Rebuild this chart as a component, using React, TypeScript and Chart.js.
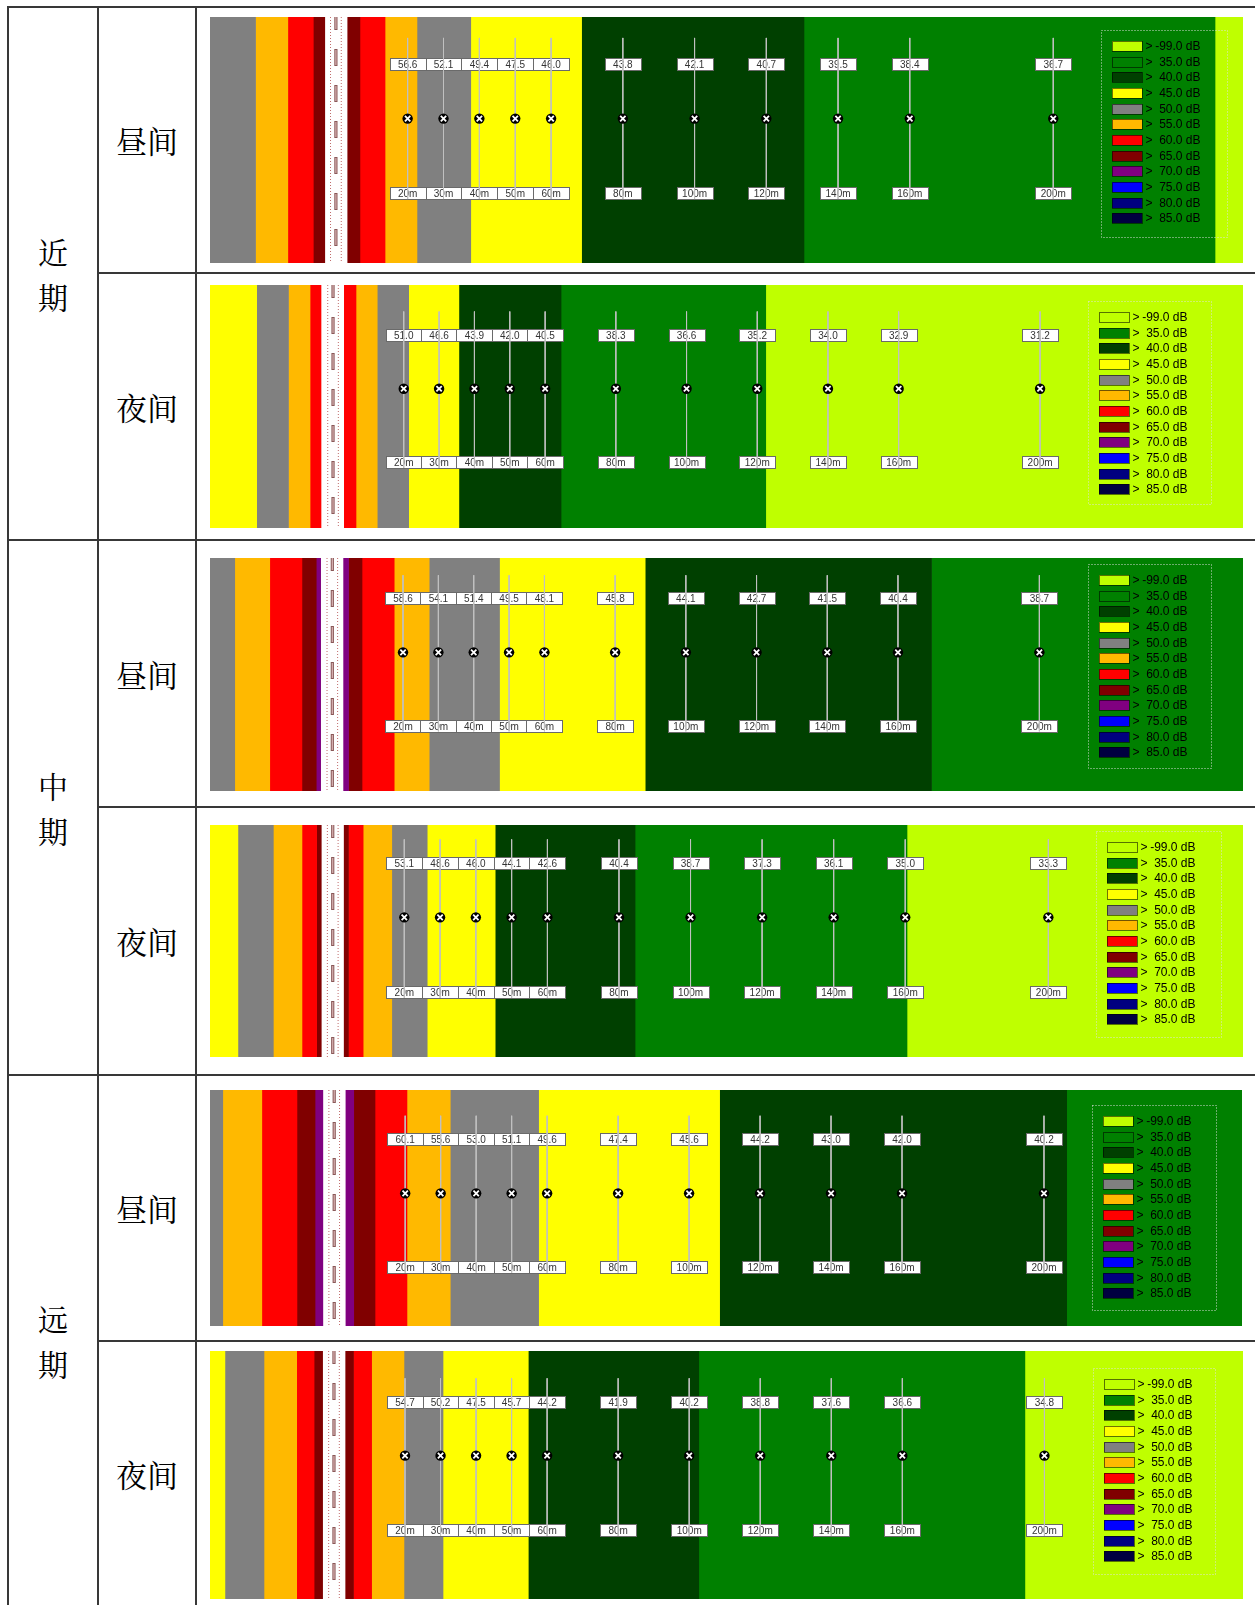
import React, { useEffect, useRef } from 'react';
import { Chart, registerables } from 'chart.js';

Chart.register(...registerables);

// ---------------- data ----------------
const legendThresholds = [-99, 35, 40, 45, 50, 55, 60, 65, 70, 75, 80, 85];
const legendColors = ['#bfff00', '#008000', '#004000', '#ffff00', '#808080', '#ffb900', '#ff0000', '#800000', '#800080', '#0000ff', '#000080', '#000040'];

const receiverDistances = [20, 30, 40, 50, 60, 80, 100, 120, 140, 160, 200];

const nearDayValues = [56.6, 52.1, 49.4, 47.5, 46.0, 43.8, 42.1, 40.7, 39.5, 38.4, 36.7];
const nearNightValues = [51.0, 46.6, 43.9, 42.0, 40.5, 38.3, 36.6, 35.2, 34.0, 32.9, 31.2];
const midDayValues = [58.6, 54.1, 51.4, 49.5, 48.1, 45.8, 44.1, 42.7, 41.5, 40.4, 38.7];
const midNightValues = [53.1, 48.6, 46.0, 44.1, 42.6, 40.4, 38.7, 37.3, 36.1, 35.0, 33.3];
const farDayValues = [60.1, 55.6, 53.0, 51.1, 49.6, 47.4, 45.6, 44.2, 43.0, 42.0, 40.2];
const farNightValues = [54.7, 50.2, 47.5, 45.7, 44.2, 41.9, 40.2, 38.8, 37.6, 36.6, 34.8];

// contour band edges (m from road centre) and band level (lower threshold, dB); null = road
const nearDayEdges = [-35.1, -22.4, -13.4, -6.3, -3.1, 3.3, 6.7, 13.7, 22.6, 37.6, 68.5, 130.5, 245.1, 252.9];
const nearDayLevels = [50, 55, 60, 65, null, 65, 60, 55, 50, 45, 40, 35, -99];
const nearNightEdges = [-34.8, -21.6, -12.6, -6.5, -3.4, 3.2, 6.5, 12.5, 21.4, 35.6, 64.5, 122.4, 257.4];
const nearNightLevels = [45, 50, 55, 60, null, 60, 55, 50, 45, 40, 35, -99];
const midDayEdges = [-34.6, -27.6, -17.7, -8.6, -4.55, -3.3, 3.2, 4.6, 8.4, 17.5, 27.4, 47.3, 88.5, 169.5, 257.6];
const midDayLevels = [50, 55, 60, 65, 70, null, 70, 65, 60, 55, 50, 45, 40, 35];
const midNightEdges = [-34.3, -26.5, -16.6, -8.6, -4.5, -3.2, 3.2, 4.4, 8.5, 16.5, 26.4, 45.4, 84.5, 160.5, 254.4];
const midNightLevels = [45, 50, 55, 60, 65, null, 65, 60, 55, 50, 45, 40, 35, -99];
const farDayEdges = [-35.0, -31.4, -20.4, -10.5, -5.4, -3.2, 3.3, 5.5, 11.5, 20.5, 32.7, 57.6, 108.6, 206.4, 255.8];
const farDayLevels = [50, 55, 60, 65, 70, null, 70, 65, 60, 55, 50, 45, 40, 35];
const farNightEdges = [-34.9, -30.7, -19.7, -10.5, -5.6, -3.2, 3.3, 5.5, 10.6, 19.7, 30.7, 54.7, 102.7, 194.5, 255.9];
const farNightLevels = [45, 50, 55, 60, 65, null, 65, 60, 55, 50, 45, 40, 35, -99];

// road markings (m from road centre)
const laneLineOffsets = [-1.5, 1.5];
const centreLineOffset = 0;

const periodLabels = ['近期', '中期', '远期'];
const timeLabels = ['昼间', '夜间'];

// ---------------- layout ----------------
type Rows = { lineTop: number; valueY: number; markerY: number; distY: number; lineBottom: number };
type Box = { left: number; top: number; width: number; height: number };
type PanelCfg = { values: number[]; edges: number[]; levels: (number | null)[]; rect: Box; rows: Rows; legendBox: Box };

const panels: PanelCfg[] = [
  { values: nearDayValues, edges: nearDayEdges, levels: nearDayLevels,
    rect: { left: 210, top: 17, width: 1033, height: 246 },
    rows: { lineTop: 0.085, valueY: 0.19, markerY: 0.413, distY: 0.715, lineBottom: 0.74 },
    legendBox: { left: 891, top: 13, width: 126, height: 207 } },
  { values: nearNightValues, edges: nearNightEdges, levels: nearNightLevels,
    rect: { left: 210, top: 285, width: 1033, height: 243 },
    rows: { lineTop: 0.109, valueY: 0.205, markerY: 0.427, distY: 0.73, lineBottom: 0.753 },
    legendBox: { left: 878, top: 16, width: 123, height: 203 } },
  { values: midDayValues, edges: midDayEdges, levels: midDayLevels,
    rect: { left: 210, top: 558, width: 1033, height: 233 },
    rows: { lineTop: 0.074, valueY: 0.171, markerY: 0.405, distY: 0.719, lineBottom: 0.744 },
    legendBox: { left: 878, top: 6, width: 123, height: 204 } },
  { values: midNightValues, edges: midNightEdges, levels: midNightLevels,
    rect: { left: 210, top: 825, width: 1033, height: 232 },
    rows: { lineTop: 0.062, valueY: 0.162, markerY: 0.398, distY: 0.72, lineBottom: 0.745 },
    legendBox: { left: 886, top: 6, width: 125, height: 206 } },
  { values: farDayValues, edges: farDayEdges, levels: farDayLevels,
    rect: { left: 210, top: 1090, width: 1032, height: 236 },
    rows: { lineTop: 0.109, valueY: 0.207, markerY: 0.438, distY: 0.749, lineBottom: 0.774 },
    legendBox: { left: 882, top: 15, width: 124, height: 205 } },
  { values: farNightValues, edges: farNightEdges, levels: farNightLevels,
    rect: { left: 210, top: 1351, width: 1033, height: 248 },
    rows: { lineTop: 0.11, valueY: 0.204, markerY: 0.422, distY: 0.722, lineBottom: 0.746 },
    legendBox: { left: 883, top: 17, width: 122, height: 206 } },
];

const colorFor = (lv: number) => legendColors[legendThresholds.indexOf(lv)];
const LABEL_FONT = '10px "Liberation Sans", Arial, sans-serif';
const LEGEND_FONT = '12px "Liberation Sans", Arial, sans-serif';

function drawLabelBox(ctx: CanvasRenderingContext2D, cx: number, cy: number, text: string) {
  const w = 36, h = 12;
  const x0 = Math.round(cx - w / 2) + 0.5;
  const y0 = Math.round(cy - h / 2) + 0.5;
  ctx.fillStyle = '#ffffff';
  ctx.fillRect(x0, y0, w, h);
  ctx.strokeStyle = '#6a6a6a';
  ctx.lineWidth = 1;
  ctx.strokeRect(x0, y0, w, h);
  ctx.fillStyle = '#333333';
  ctx.fillText(text, cx, y0 + h / 2 + 0.5);
}

function Panel({ cfg, idx }: { cfg: PanelCfg; idx: number }) {
  const ref = useRef<HTMLCanvasElement>(null);
  useEffect(() => {
    if (!ref.current) return;
    const { edges, levels, values, rows, legendBox } = cfg;

    const bandSets: any[] = [];
    levels.forEach((lv, i) => {
      if (lv === null) return;
      bandSets.push({
        type: 'bar', indexAxis: 'y', label: 'band', xAxisID: 'x', yAxisID: 'yc',
        data: [[edges[i], edges[i + 1]]],
        backgroundColor: colorFor(lv), borderWidth: 0,
        grouped: false, barPercentage: 1, categoryPercentage: 1, order: 10,
      });
    });

    const vline = (x: number) => [{ x, y: 0 }, { x, y: 1 }];
    const laneSets = laneLineOffsets.map((o) => ({
      type: 'line', label: 'lane', xAxisID: 'x', yAxisID: 'y', data: vline(o),
      borderColor: '#c06a6a', borderWidth: 1, borderDash: [1, 2], pointRadius: 0, fill: false, order: 6,
    }));
    const centreSets = [
      { type: 'line', label: 'centre', xAxisID: 'x', yAxisID: 'y', data: vline(centreLineOffset),
        borderColor: '#8a5858', borderWidth: 3.2, borderDash: [17, 19], borderDashOffset: 4, pointRadius: 0, fill: false, order: 5 },
      { type: 'line', label: 'centre2', xAxisID: 'x', yAxisID: 'y', data: vline(centreLineOffset),
        borderColor: '#d9b3b3', borderWidth: 1.2, borderDash: [15, 21], borderDashOffset: 3, pointRadius: 0, fill: false, order: 4 },
    ];

    const lineData: any[] = [];
    receiverDistances.forEach((d) => {
      lineData.push({ x: d, y: rows.lineTop }, { x: d, y: rows.lineBottom }, { x: d, y: null });
    });
    const receiverLines = {
      type: 'line', label: 'receiver-lines', xAxisID: 'x', yAxisID: 'y', data: lineData,
      borderColor: 'rgba(192,192,192,1)', borderWidth: 1, pointRadius: 0, fill: false, spanGaps: false, order: 3,
    };
    const markerData = receiverDistances.map((d) => ({ x: d, y: rows.markerY }));
    const markers = [
      { type: 'scatter', label: 'rx', xAxisID: 'x', yAxisID: 'y', data: markerData,
        pointStyle: 'circle', pointRadius: 5.2, backgroundColor: '#000000', borderColor: '#000000', borderWidth: 0, order: 2 },
      { type: 'scatter', label: 'rx2', xAxisID: 'x', yAxisID: 'y', data: markerData,
        pointStyle: 'crossRot', pointRadius: 3.8, backgroundColor: '#ffffff', borderColor: '#ffffff', borderWidth: 1.8, order: 1 },
    ];

    const overlay = {
      id: 'overlay' + idx,
      beforeDatasetDraw(chart: any, args: any) {
        const ds = chart.data.datasets[args.index];
        if (!ds || ds.label !== 'receiver-lines') return;
        const ctx = chart.ctx as CanvasRenderingContext2D;
        const xs = chart.scales.x, ys = chart.scales.y;
        ctx.save();
        ctx.font = LABEL_FONT;
        ctx.textAlign = 'center';
        ctx.textBaseline = 'middle';
        receiverDistances.forEach((d, i) => {
          const cx = xs.getPixelForValue(d);
          drawLabelBox(ctx, cx, ys.getPixelForValue(rows.valueY), values[i].toFixed(1));
          drawLabelBox(ctx, cx, ys.getPixelForValue(rows.distY), d + 'm');
        });
        ctx.restore();
      },
      afterDatasetsDraw(chart: any) {
        const ctx = chart.ctx as CanvasRenderingContext2D;
        const a = chart.chartArea;
        const bx = a.left + legendBox.left, by = a.top + legendBox.top;
        ctx.save();
        ctx.strokeStyle = 'rgba(225,225,225,0.95)';
        ctx.lineWidth = 1;
        ctx.setLineDash([1, 2]);
        ctx.strokeRect(Math.round(bx) + 0.5, Math.round(by) + 0.5, legendBox.width, legendBox.height);
        ctx.setLineDash([]);
        ctx.font = LEGEND_FONT;
        ctx.textBaseline = 'middle';
        legendThresholds.forEach((t, i) => {
          const sy = Math.round(by + 11 + i * 15.65);
          const sx = Math.round(bx + 10.5);
          ctx.fillStyle = legendColors[i];
          ctx.fillRect(sx, sy, 30, 10);
          ctx.strokeStyle = 'rgba(0,0,0,0.55)';
          ctx.strokeRect(sx + 0.5, sy + 0.5, 30, 10);
          ctx.fillStyle = '#000000';
          ctx.textAlign = 'left';
          ctx.fillText('>', bx + 44.5, sy + 5.5);
          ctx.textAlign = 'right';
          ctx.fillText(t.toFixed(1) + ' dB', bx + 99.5, sy + 5.5);
        });
        ctx.restore();
      },
    };

    const chart = new Chart(ref.current, {
      type: 'bar',
      data: { labels: ['band'], datasets: [...bandSets, ...laneSets, ...centreSets, receiverLines, ...markers] as any },
      options: {
        animation: false,
        responsive: false,
        maintainAspectRatio: false,
        events: [],
        layout: { padding: 0, autoPadding: false },
        plugins: { legend: { display: false }, tooltip: { enabled: false }, title: { display: false } },
        scales: {
          x: { type: 'linear', min: edges[0], max: edges[edges.length - 1], display: false, offset: false },
          yc: { type: 'category', axis: 'y', labels: ['band'], offset: true, display: false },
          y: { type: 'linear', min: 0, max: 1, reverse: true, display: false, offset: false },
        } as any,
      } as any,
      plugins: [overlay as any],
    });
    return () => chart.destroy();
  }, [cfg, idx]);

  const r = cfg.rect;
  return (
    <canvas
      ref={ref}
      width={r.width}
      height={r.height}
      style={{ position: 'absolute', left: r.left, top: r.top, width: r.width, height: r.height }}
    />
  );
}

const LINE = '#383838';
const CJK = '"Noto Serif CJK SC", "Noto Sans CJK SC", serif';

export default function App() {
  const hLinesFull = [6, 539, 1074];
  const hLinesPart = [272, 806, 1340];
  const vLines = [7, 97, 195];
  const periodCenters = [274, 807.5, 1341];
  const rowCenters = [140, 407, 674, 941, 1208, 1474];
  return (
    <div style={{ position: 'fixed', left: 0, top: 0, width: 1255, height: 1605, background: '#fff', overflow: 'hidden' }}>
      {panels.map((p, i) => (
        <Panel key={i} cfg={p} idx={i} />
      ))}
      {vLines.map((x, i) => (
        <div key={'v' + i} style={{ position: 'absolute', left: x, top: 6, width: 2, height: 1600, background: LINE }} />
      ))}
      {hLinesFull.map((y, i) => (
        <div key={'hf' + i} style={{ position: 'absolute', left: 7, top: y, width: 1250, height: 2, background: LINE }} />
      ))}
      {hLinesPart.map((y, i) => (
        <div key={'hp' + i} style={{ position: 'absolute', left: 97, top: y, width: 1160, height: 2, background: LINE }} />
      ))}
      {periodLabels.map((t, i) => (
        <div key={'p' + i} style={{
          position: 'absolute', left: 9, width: 88, top: periodCenters[i] - 45, height: 90,
          fontFamily: CJK, fontSize: 30, lineHeight: '45px', textAlign: 'center', color: '#000',
        }}>
          {t[0]}<br />{t[1]}
        </div>
      ))}
      {rowCenters.map((c, i) => (
        <div key={'r' + i} style={{
          position: 'absolute', left: 99, width: 96, top: c - 20, height: 40,
          fontFamily: CJK, fontSize: 31, lineHeight: '40px', textAlign: 'center', color: '#000',
        }}>
          {timeLabels[i % 2]}
        </div>
      ))}
    </div>
  );
}
